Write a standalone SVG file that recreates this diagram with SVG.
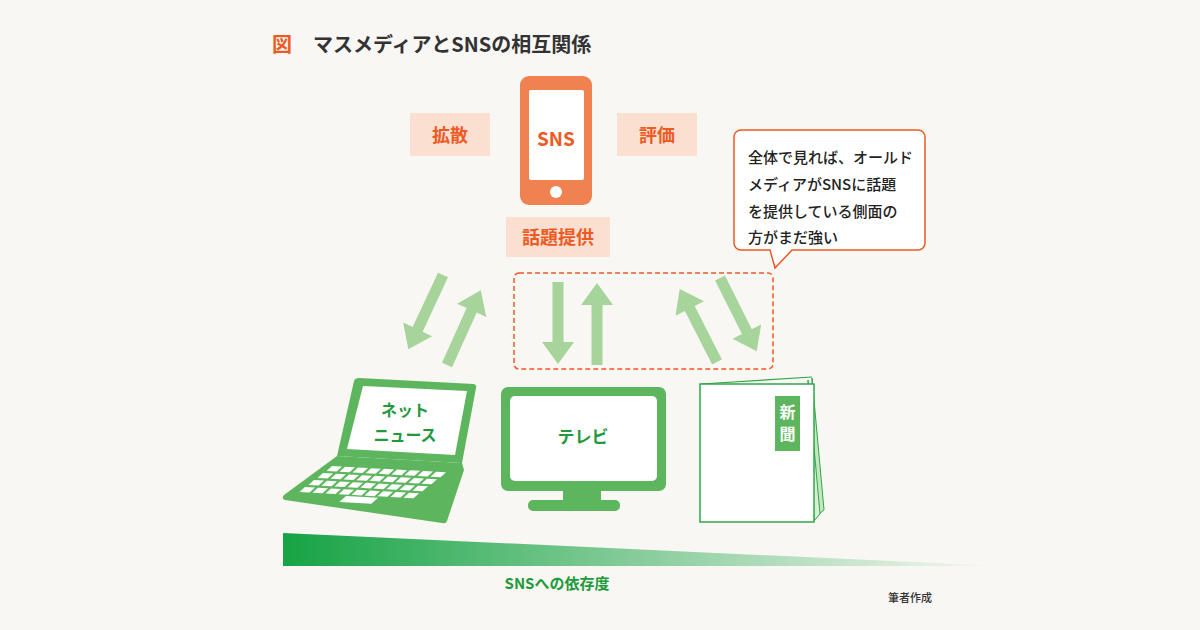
<svg xmlns="http://www.w3.org/2000/svg" width="1200" height="630" viewBox="0 0 1200 630">
<style>
text{font-family:"Noto Sans CJK JP","Noto Sans",sans-serif;font-weight:bold}
text.n{font-weight:500}
.o{fill:#ee5a24}.g{fill:#1f9a3c}.lab{fill:#fbe0d2}.arr{fill:#a6d49b}
.grn{fill:#5db65d}.w{fill:#fff}
</style>
<defs>
<path id="ar" d="M0,-5.5 L60,-5.5 L60,-16 L82,0 L60,16 L60,5.5 L0,5.5 Z"/>
<linearGradient id="gr" x1="0" x2="1" y1="0" y2="0"><stop offset="0" stop-color="#16a344"/><stop offset="1" stop-color="#16a344" stop-opacity="0"/></linearGradient>
<g id="keys" fill="#fff">
<rect x="0" y="0" width="10" height="5"/><rect x="13" y="0" width="10" height="5"/><rect x="26" y="0" width="10" height="5"/><rect x="39" y="0" width="10" height="5"/><rect x="52" y="0" width="10" height="5"/><rect x="65" y="0" width="10" height="5"/><rect x="78" y="0" width="10" height="5"/><rect x="91" y="0" width="10" height="5"/><rect x="104" y="0" width="10" height="5"/>
</g>
</defs>
<rect width="1200" height="630" fill="#f9f7f3"/>
<g id="title"><text x="272" y="52" font-size="20" class="o">図</text><text x="313" y="52" font-size="20" fill="#333">マスメディアとSNSの相互関係</text></g>
<g id="sns"><rect x="520" y="76" width="72" height="129" rx="9" fill="#f08150"/><rect x="529" y="90" width="55" height="90" rx="2" class="w"/><circle cx="556" cy="192" r="6" class="w"/><text x="556" y="146" font-size="19" text-anchor="middle" class="o">SNS</text></g>
<g id="kakusan"><rect x="410" y="113" width="80" height="43" class="lab"/><text x="450" y="142" font-size="18" text-anchor="middle" class="o">拡散</text></g>
<g id="hyoka"><rect x="617" y="113" width="80" height="43" class="lab"/><text x="657" y="142" font-size="18" text-anchor="middle" class="o">評価</text></g>
<g id="wadai"><rect x="506" y="217" width="104" height="40" class="lab"/><text x="558" y="244" font-size="18" text-anchor="middle" class="o">話題提供</text></g>
<g id="callout"><path d="M741,130 H918 a7,7 0 0 1 7,7 V243 a7,7 0 0 1 -7,7 H792 L775,268 L770,250 H741 a7,7 0 0 1 -7,-7 V137 a7,7 0 0 1 7,-7 Z" fill="#fff" stroke="#ee5a24" stroke-width="1.5"/>
<g font-size="15" fill="#222"><text class="n" x="748" y="163">全体で見れば、オールド</text><text class="n" x="748" y="190">メディアがSNSに話題</text><text class="n" x="748" y="217">を提供している側面の</text><text class="n" x="748" y="243">方がまだ強い</text></g></g>
<g id="connectors" class="arr">
<use href="#ar" transform="translate(443,275) rotate(115)"/>
<use href="#ar" transform="translate(447,365) rotate(-65.7)"/>
<use href="#ar" transform="translate(558,282) rotate(90)"/>
<use href="#ar" transform="translate(597,365) rotate(-90)"/>
<use href="#ar" transform="translate(717,362) rotate(-117)"/>
<use href="#ar" transform="translate(720,278) rotate(63.4)"/>
</g>
<rect id="group" x="514" y="273" width="259" height="96" rx="5" fill="none" stroke="#ee5a24" stroke-width="1.5" stroke-dasharray="5,3"/>
<g id="laptop">
<path d="M359,378 L474,384 Q477,385 476,388 L462,463 L337,456 L354,381 Q355,378 359,378 Z" class="grn"/>
<path d="M363,386 L467,391 L455,455 L347,449 Z" class="w"/>
<path d="M337,456 L462,463 L464,470 L447,521 Q446,524 442,523 L285,500 Q281,498 284,495 Z" class="grn"/>
<use href="#keys" transform="translate(332,466) matrix(1,0.055,-1.1,1,0,0)"/>
<use href="#keys" transform="translate(323,473) matrix(1,0.055,-1.1,1,0,0)"/>
<use href="#keys" transform="translate(314,480) matrix(1,0.055,-1.1,1,0,0)"/>
<use href="#keys" transform="translate(305,487) matrix(1,0.055,-1.1,1,0,0)"/>
<rect x="0" y="0" width="32" height="6" class="w" transform="translate(346,496) matrix(1,0.055,-1.1,1,0,0)"/>
<text x="405" y="416" font-size="16" text-anchor="middle" class="g">ネット</text>
<text x="405" y="441" font-size="16" text-anchor="middle" class="g">ニュース</text>
</g>
<g id="tv"><rect x="501" y="387" width="165" height="104" rx="7" class="grn"/><rect x="510" y="396" width="147" height="85" rx="5" class="w"/><rect x="563" y="490" width="38" height="14" class="grn"/><rect x="528" y="500" width="92" height="11" rx="5" class="grn"/><text x="583" y="443" font-size="17" text-anchor="middle" class="g">テレビ</text></g>
<g id="paper">
<path d="M812,378 L824,510 L814,518 Z" fill="#c6e6c0" stroke="#2ea84a" stroke-width="1"/>
<path d="M808,380 L820,514 L814,521 Z" fill="#d8eed3" stroke="#2ea84a" stroke-width="1"/>
<path d="M701,384 L812,377" stroke="#2ea84a" stroke-width="1.2"/>
<rect x="700" y="384" width="114" height="138" fill="#fff" stroke="#2ea84a" stroke-width="1.5"/>
<rect x="775" y="396" width="25" height="55" class="grn"/>
<text x="787.5" y="418" font-size="16" text-anchor="middle" class="w">新</text>
<text x="787.5" y="440" font-size="16" text-anchor="middle" class="w">聞</text>
</g>
<g id="scale"><path d="M283,533 L1000,566 L283,566 Z" fill="url(#gr)"/><text x="557" y="589" font-size="15" text-anchor="middle" class="g">SNSへの依存度</text><text x="910" y="602" font-size="11" text-anchor="middle" fill="#333" class="n">筆者作成</text></g>
</svg>
